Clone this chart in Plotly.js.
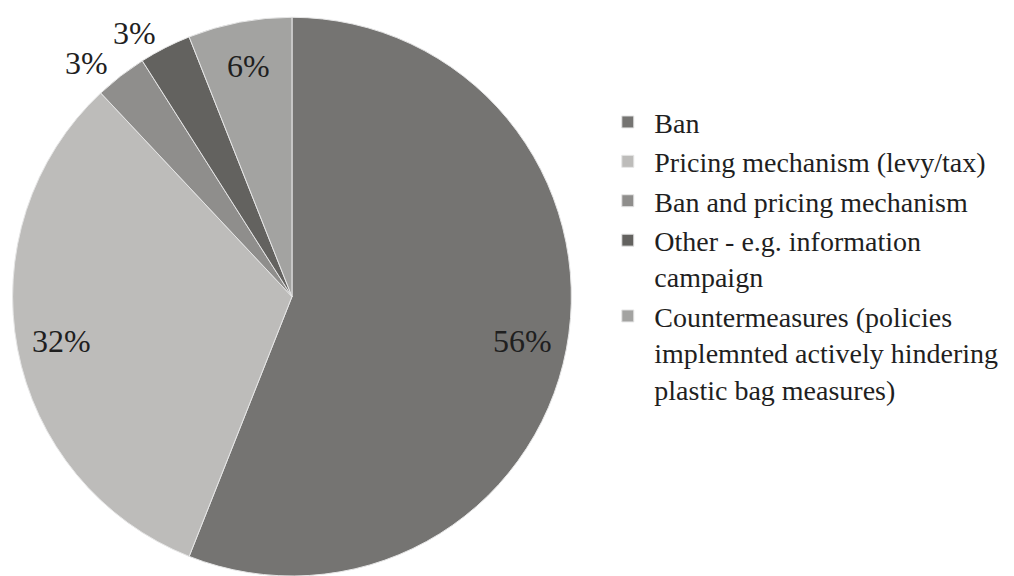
<!DOCTYPE html>
<html>
<head>
<meta charset="utf-8">
<script src="https://cdn.plot.ly/plotly-3.0.1.min.js"></script>
<style>html,body{margin:0;padding:0;background:#fff;}#chart{width:1014px;height:576px;}</style>
</head>
<body>
<div id="chart"></div>
<script>
const categories = [
  "Ban",
  "Pricing mechanism (levy/tax)",
  "Ban and pricing mechanism",
  "Other - e.g. information<br>campaign",
  "Countermeasures (policies<br>implemnted actively hindering<br>plastic bag measures)"
];
const shares = [56, 32, 3, 3, 6];
const sliceColors = ["#757472", "#bdbcba", "#8f8e8c", "#63625f", "#a3a3a1"];
const outsideLabel = [false, false, true, true, false];

function makeChart() {
  const W = 1014, H = 576;
  const domX = [0.0124, 0.5635], domY = [0, 0.97];

  const trace = {
    type: "pie",
    labels: categories,
    values: shares,
    sort: false,
    direction: "clockwise",
    rotation: 0,
    marker: { colors: sliceColors, line: { color: "#e6e6e6", width: 1 } },
    textinfo: "none",
    domain: { x: domX, y: domY },
    hoverinfo: "none"
  };

  // percentage labels placed at each slice's mid-angle, computed from the values
  const total = shares.reduce((a, b) => a + b, 0);
  const rPx = Math.min((domX[1] - domX[0]) * W, (domY[1] - domY[0]) * H) / 2;
  const cxp = (domX[0] + domX[1]) / 2, cyp = (domY[0] + domY[1]) / 2;
  const annotations = [];
  let cum = 0;
  shares.forEach((v, i) => {
    const mid = (cum + v / 2) / total * 2 * Math.PI;
    cum += v;
    const out = outsideLabel[i];
    const f = out ? 1.06 : 0.84;
    annotations.push({
      xref: "paper", yref: "paper",
      x: cxp + f * rPx * Math.sin(mid) / W,
      y: cyp + f * rPx * Math.cos(mid) / H,
      text: v + "%", showarrow: false,
      xanchor: out ? (Math.sin(mid) < 0 ? "right" : "left") : "center",
      yanchor: "middle",
      font: { family: "Liberation Serif", size: 32, color: "#1f1f1f" }
    });
  });

  const layout = {
    width: W,
    height: H,
    margin: { l: 0, r: 0, t: 0, b: 0 },
    paper_bgcolor: "#ffffff",
    showlegend: true,
    annotations: annotations,
    font: { family: "Liberation Serif", color: "#1f1f1f" },
    legend: {
      x: 0.593, xanchor: "left",
      y: 0.556, yanchor: "middle",
      valign: "top",
      itemwidth: 43,
      font: { family: "Liberation Serif", size: 28, color: "#1f1f1f" },
      traceorder: "normal"
    }
  };

  Plotly.newPlot("chart", [trace], layout, { staticPlot: true });
}
makeChart();
</script>
</body>
</html>
